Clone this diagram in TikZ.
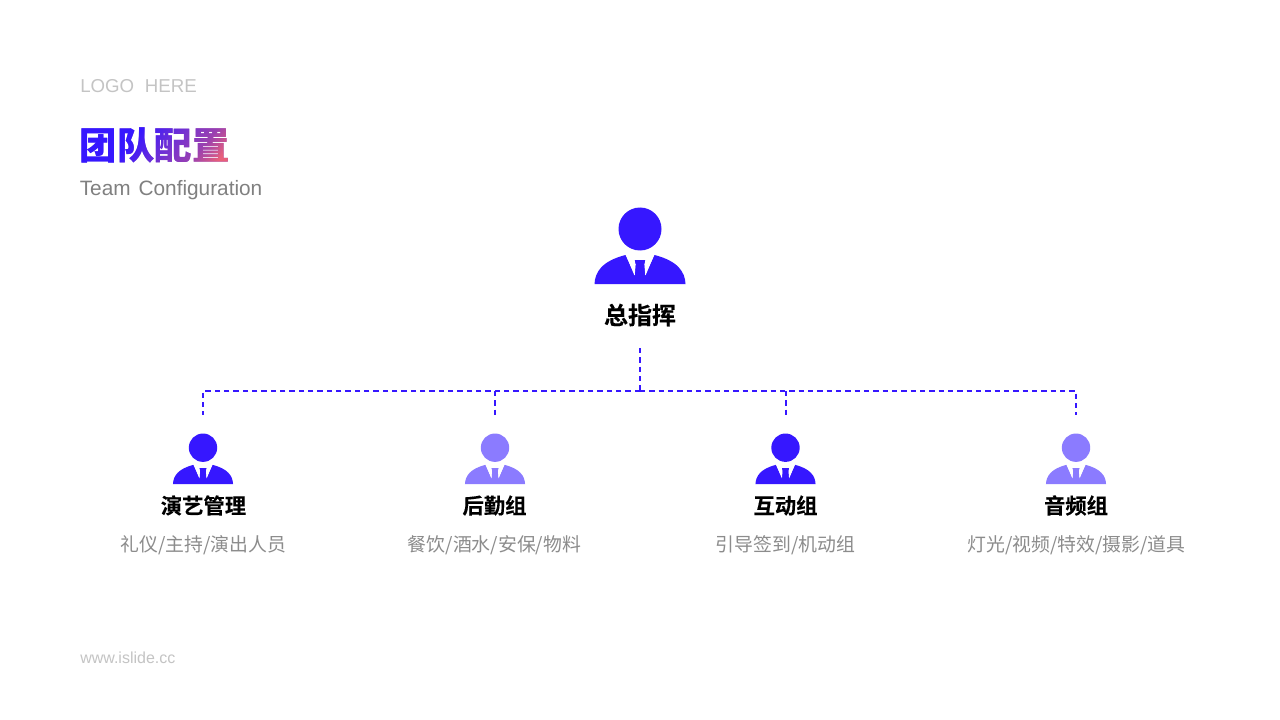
\documentclass[tikz,border=0pt]{standalone}
\usepackage{fontspec}
\usetikzlibrary{fadings}
\setmainfont{Liberation Sans}
\newfontfamily\cjk{Noto Sans CJK SC}
\newfontfamily\cjkb[FakeBold=0.15]{Noto Sans CJK SC Bold}
\newfontfamily\cjkh{Noto Sans CJK SC Black}
\definecolor{mainblue}{HTML}{3617FF}
\definecolor{lightblue}{HTML}{8B7BFF}
\definecolor{subgrey}{HTML}{8C8C8C}
\definecolor{logogrey}{HTML}{C4C4C4}
\definecolor{tA}{HTML}{3A1AF8}
\definecolor{tB}{HTML}{5A28E0}
\definecolor{tC}{HTML}{7A34CC}
\definecolor{tD}{HTML}{9A40B0}
\definecolor{tE}{HTML}{E8607A}
\pgfdeclarehorizontalshading{titlegrad}{100bp}{
  color(0bp)=(mainblue);color(40bp)=(mainblue);color(58bp)=(tC);color(68bp)=(tD);color(78bp)=(tE);color(100bp)=(tE)}
\begin{tikzfadingfrompicture}[name=titlefade]
\node[text=transparent!0,font=\cjkh\fontsize{28.1pt}{32pt}\selectfont,inner sep=0pt] {团队配置};
\end{tikzfadingfrompicture}
\tikzset{
  x=0.75pt,y=-0.75pt,
  connector/.style={draw=mainblue,line width=1.3pt,dash pattern=on 4pt off 3pt},
  role/.style={font=\cjkb\fontsize{16pt}{18pt}\selectfont,text=black,inner sep=0pt,anchor=center},
  duty/.style={font=\cjk\fontsize{14.15pt}{18pt}\selectfont,text=subgrey,inner sep=0pt,anchor=center},
  person/.pic={
    \fill[pic actions] (0,-55) circle[radius=21.5];
    \fill[pic actions] (-45.5,0) .. controls (-45,-12) and (-38,-23) .. (-14.5,-29)
       -- (-5.7,-10) -- (-5,-19.5) -- (-6,-24) -- (6,-24) -- (5,-19.5) -- (5.7,-10)
       -- (14.5,-29) .. controls (38,-23) and (45,-12) .. (45.5,0) -- cycle;
    \fill[white] (-14.5,-30) -- (-5.7,-9) -- (-5,-9) -- (-4.2,-19.5) -- (-5.2,-24) -- (5.2,-24) -- (4.2,-19.5) -- (5,-9) -- (5.7,-9) -- (14.5,-30) -- cycle;
    \fill[pic actions] (-5.2,-24) -- (5.2,-24) -- (4.2,-19.5) -- (5,-9) -- (-5,-9) -- (-4.2,-19.5) -- cycle;
  }
}
\begin{document}
\begin{tikzpicture}
\useasboundingbox[fill=white] (0,0) rectangle (1280,720);
\node[font=\fontsize{14pt}{18pt}\selectfont,text=logogrey,inner sep=0pt,anchor=west] (logo) at (80,86) {LOGO\hspace{8pt}HERE};
\node[font=\cjkh\fontsize{28.1pt}{32pt}\selectfont,inner sep=0pt,anchor=west] (title) at (79.5,145) {\textcolor{tA}{团}\textcolor{tB}{队}\textcolor{tC}{配}\textcolor{tD}{置}};
\shade[shading=titlegrad,shading angle=-40,path fading=titlefade,fit fading=false,fading transform={shift={(title.center)}}]
  ([shift={(-3,-3)}]title.north west) rectangle ([shift={(3,3)}]title.south east);
\node[font=\fontsize{15.6pt}{18pt}\selectfont,text=black!50,inner sep=0pt,anchor=west] (subtitle) at (79.5,190) {Team\hspace{6pt}Configuration};
\node[font=\fontsize{12pt}{14pt}\selectfont,text=logogrey,inner sep=0pt,anchor=west] (web) at (80,657.5) {www.islide.cc};

\pic[fill=mainblue] at (640,284) {person};
\node[role,font=\cjkb\fontsize{18pt}{20pt}\selectfont] (chief) at (640,315) {总指挥};

\pic[fill=mainblue,scale=0.66] at (203,484) {person};
\pic[fill=lightblue,scale=0.66] at (495,484) {person};
\pic[fill=mainblue,scale=0.66] at (785.5,484) {person};
\pic[fill=lightblue,scale=0.66] at (1076,484) {person};

\node[role] (r1) at (203.5,505.5) {演艺管理};
\node[role] (r2) at (494.5,505.5) {后勤组};
\node[role] (r3) at (785.5,505.5) {互动组};
\node[role] (r4) at (1076,505.5) {音频组};
\node[duty] (d1) at (203.5,545.5) {礼仪/主持/演出人员};
\node[duty] (d2) at (494.5,545.5) {餐饮/酒水/安保/物料};
\node[duty] (d3) at (785.5,545.5) {引导签到/机动组};
\node[duty] (d4) at (1076.5,545.5) {灯光/视频/特效/摄影/道具};

\coordinate (top) at (640,348);
\coordinate (bus) at (640,391);
\coordinate (bus2) at (495,391);
\coordinate (bus3) at (786,391);
\coordinate (e1) at (203,415);
\coordinate (e2) at (495,415);
\coordinate (e3) at (786,415);
\coordinate (e4) at (1076,415);
\draw[connector] (top) -- (bus);
\draw[connector] (bus) -| (e1);
\draw[connector] (bus) -| (e4);
\draw[connector] (bus2) -- (e2);
\draw[connector] (bus3) -- (e3);
\end{tikzpicture}
\end{document}
